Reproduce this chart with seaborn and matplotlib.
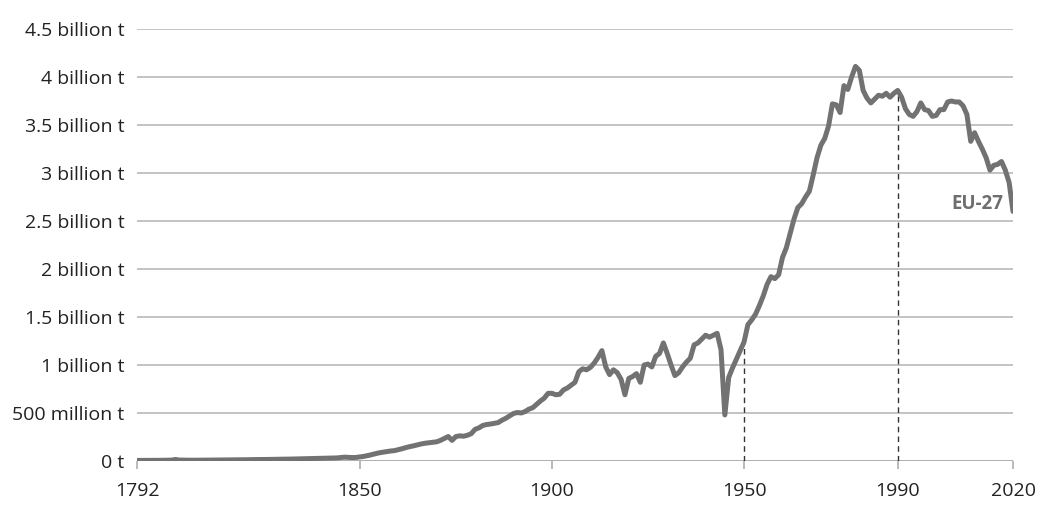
import matplotlib
matplotlib.use("Agg")
import matplotlib.pyplot as plt
import seaborn as sns
import pandas as pd

years = list(range(1792, 2021))
emissions_bn = [
    0.006, 0.006, 0.006, 0.007, 0.007, 0.007, 0.007, 0.008, 0.008, 0.009,
    0.016, 0.010, 0.009, 0.009, 0.008, 0.008, 0.008, 0.009, 0.009, 0.010,
    0.010, 0.010, 0.011, 0.011, 0.012, 0.012, 0.012, 0.013, 0.013, 0.014,
    0.014, 0.015, 0.015, 0.016, 0.016, 0.017, 0.017, 0.018, 0.019, 0.019,
    0.020, 0.021, 0.021, 0.022, 0.023, 0.024, 0.025, 0.026, 0.027, 0.028,
    0.029, 0.030, 0.032, 0.036, 0.040, 0.038, 0.036, 0.037, 0.042, 0.048,
    0.056, 0.066, 0.076, 0.085, 0.092, 0.098, 0.104, 0.108, 0.118, 0.128,
    0.140, 0.150, 0.158, 0.168, 0.178, 0.185, 0.190, 0.195, 0.200, 0.215,
    0.235, 0.255, 0.215, 0.255, 0.262, 0.258, 0.268, 0.285, 0.330, 0.345,
    0.370, 0.380, 0.385, 0.392, 0.400, 0.425, 0.445, 0.470, 0.495, 0.505,
    0.500, 0.515, 0.540, 0.555, 0.590, 0.625, 0.655, 0.705, 0.705, 0.690,
    0.695, 0.740, 0.760, 0.790, 0.820, 0.930, 0.960, 0.950, 0.975, 1.020,
    1.080, 1.150, 0.980, 0.900, 0.950, 0.920, 0.850, 0.690, 0.860, 0.880,
    0.910, 0.820, 1.000, 1.010, 0.980, 1.090, 1.120, 1.230, 1.120, 1.000,
    0.890, 0.920, 0.980, 1.030, 1.070, 1.210, 1.230, 1.270, 1.310, 1.290,
    1.310, 1.330, 1.160, 0.480, 0.870, 0.970, 1.060, 1.150, 1.240, 1.420,
    1.470, 1.530, 1.620, 1.720, 1.840, 1.920, 1.900, 1.940, 2.120, 2.220,
    2.370, 2.520, 2.640, 2.680, 2.750, 2.810, 2.980, 3.160, 3.290, 3.360,
    3.490, 3.720, 3.710, 3.630, 3.910, 3.870, 4.000, 4.110, 4.070, 3.860,
    3.780, 3.730, 3.770, 3.810, 3.800, 3.830, 3.790, 3.830, 3.860, 3.790,
    3.670, 3.610, 3.590, 3.640, 3.730, 3.660, 3.650, 3.590, 3.600, 3.660,
    3.660, 3.740, 3.750, 3.740, 3.740, 3.700, 3.610, 3.330, 3.420, 3.330,
    3.250, 3.160, 3.030, 3.080, 3.090, 3.120, 3.030, 2.900, 2.600,
]
x_ticks = [1792, 1850, 1900, 1950, 1990, 2020]
y_ticks = [0, 0.5, 1, 1.5, 2, 2.5, 3, 3.5, 4, 4.5]
y_labels = ["0 t", "500 million t", "1 billion t", "1.5 billion t", "2 billion t",
            "2.5 billion t", "3 billion t", "3.5 billion t", "4 billion t", "4.5 billion t"]
marker_years = [1950, 1990]
series_label = "EU-27"

df = pd.DataFrame({"year": years, "value": emissions_bn})

sns.set_theme(style="white")
plt.rcParams["font.family"] = ["Open Sans", "DejaVu Sans"]

fig = plt.figure(figsize=(10.44, 5.16), dpi=100)
ax = fig.add_axes([137 / 1044, 1 - 461 / 516, (1013 - 137) / 1044, (461 - 29) / 516])

for yv in y_ticks[1:]:
    ax.axhline(yv, color="#b3b3b3", lw=1.1, zorder=1)
ax.axhline(0, color="#a8a8a8", lw=1.3, zorder=1)

for yr in marker_years:
    v = emissions_bn[years.index(yr)]
    ax.plot([yr, yr], [0, v], color="#333333", lw=1.0, ls=(0, (4, 3)), zorder=2)

sns.lineplot(data=df, x="year", y="value", ax=ax, color="#727272", lw=3.6,
             zorder=3, solid_joinstyle="round", solid_capstyle="round")

ax.set_xlim(1792, 2020)
ax.set_ylim(0, 4.5)
ax.set_xticks(x_ticks)
ax.set_xticklabels([str(t) for t in x_ticks])
ax.set_yticks(y_ticks)
ax.set_yticklabels(y_labels)
ax.set_xlabel("")
ax.set_ylabel("")
for s in ax.spines.values():
    s.set_visible(False)
ax.tick_params(axis="y", length=0, pad=9, labelsize=14, labelcolor="#222222")
ax.tick_params(axis="x", length=6, width=1.1, color="#a8a8a8", direction="out",
               pad=9, labelsize=14, labelcolor="#222222", bottom=True)
ax.grid(False)

ax.text(2017.4, 2.68, series_label, ha="right", va="center", fontsize=13.5,
        fontweight="bold", color="#6e6e6e")

fig.savefig("out.png", dpi=100)
